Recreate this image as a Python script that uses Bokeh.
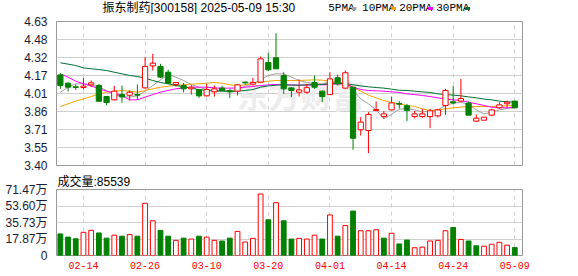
from bokeh.plotting import figure
from bokeh.models import Range1d, FixedTicker, Label, ColumnDataSource
from bokeh.layouts import column
from bokeh.embed import file_html
from bokeh.resources import INLINE
from bokeh.core.properties import value

# ---------------- data ----------------
dates = ["02-11", "02-12", "02-13", "02-14", "02-17", "02-18", "02-19", "02-20", "02-21", "02-24",
         "02-25", "02-26", "02-27", "02-28", "03-03", "03-04", "03-05", "03-06", "03-07", "03-10",
         "03-11", "03-12", "03-13", "03-14", "03-17", "03-18", "03-19", "03-20", "03-21", "03-24",
         "03-25", "03-26", "03-27", "03-28", "03-31", "04-01", "04-02", "04-03", "04-07", "04-08",
         "04-09", "04-10", "04-11", "04-14", "04-15", "04-16", "04-17", "04-18", "04-21", "04-22",
         "04-23", "04-24", "04-25", "04-28", "04-29", "04-30", "05-06", "05-07", "05-08", "05-09"]
tick_idx = [3, 11, 19, 27, 35, 43, 51, 59]

open_ = [4.174, 4.103, 4.072, 4.066, 4.089, 4.083, 3.989, 3.961, 4.006, 4.000,
         4.006, 4.063, 4.251, 4.246, 4.197, 4.092, 4.083, 4.055, 4.049, 3.995,
         4.029, 4.061, 4.038, 4.035, 4.112, 4.095, 4.112, 4.280, 4.320, 4.169,
         4.063, 4.026, 4.026, 4.109, 4.035, 4.006, 4.149, 4.061, 4.069, 3.705,
         3.699, 3.870, 3.818, 3.875, 3.929, 3.910, 3.818, 3.818, 3.818, 3.824,
         3.913, 3.944, 3.950, 3.932, 3.779, 3.787, 3.830, 3.893, 3.927, 3.950]
high = [4.189, 4.112, 4.092, 4.149, 4.126, 4.097, 3.989, 4.080, 4.083, 4.041,
        4.092, 4.326, 4.354, 4.268, 4.218, 4.109, 4.106, 4.089, 4.055, 4.097,
        4.083, 4.078, 4.055, 4.097, 4.118, 4.149, 4.331, 4.362, 4.530, 4.197,
        4.069, 4.135, 4.097, 4.169, 4.041, 4.197, 4.177, 4.212, 4.069, 3.813,
        3.856, 3.947, 3.867, 3.989, 3.952, 3.927, 3.867, 3.884, 3.884, 3.884,
        4.055, 4.080, 4.140, 3.947, 3.836, 3.813, 3.884, 3.941, 3.955, 3.950]
low = [4.055, 4.032, 4.046, 4.049, 4.069, 3.947, 3.915, 3.956, 3.935, 3.955,
       3.961, 4.055, 4.211, 4.149, 4.097, 4.075, 4.024, 4.006, 3.978, 3.989,
       3.989, 4.035, 3.978, 3.998, 4.089, 4.083, 4.103, 4.206, 4.226, 4.012,
       3.984, 3.989, 4.012, 4.055, 3.941, 4.001, 4.083, 4.055, 3.534, 3.656,
       3.505, 3.864, 3.801, 3.870, 3.887, 3.779, 3.801, 3.807, 3.719, 3.810,
       3.833, 3.921, 3.941, 3.830, 3.770, 3.787, 3.821, 3.884, 3.893, 3.893]
close = [4.083, 4.069, 4.066, 4.078, 4.106, 3.949, 3.938, 4.035, 3.986, 4.026,
         4.001, 4.246, 4.274, 4.155, 4.103, 4.109, 4.055, 4.069, 3.995, 4.049,
         4.055, 4.041, 4.029, 4.089, 4.106, 4.109, 4.311, 4.217, 4.226, 4.055,
         4.041, 4.046, 4.065, 4.069, 3.989, 4.140, 4.097, 4.192, 3.633, 3.771,
         3.836, 3.878, 3.841, 3.935, 3.924, 3.870, 3.841, 3.841, 3.867, 3.875,
         4.041, 3.935, 3.972, 3.830, 3.804, 3.813, 3.875, 3.918, 3.941, 3.893]

ma5 = [4.026, 4.069, 4.098, 4.098, 4.092, 4.069, 4.041, 4.006, 3.989, 3.984,
       3.995, 4.035, 4.083, 4.132, 4.177, 4.155, 4.126, 4.092, 4.069, 4.049,
       4.041, 4.041, 4.041, 4.046, 4.075, 4.098, 4.132, 4.169, 4.183, 4.183,
       4.155, 4.126, 4.109, 4.098, 4.098, 4.109, 4.109, 4.098, 4.046, 3.969,
       3.927, 3.875, 3.799, 3.836, 3.881, 3.887, 3.875, 3.856, 3.870, 3.875,
       3.913, 3.932, 3.941, 3.921, 3.875, 3.841, 3.856, 3.875, 3.887, 3.893]
ma10 = [3.904, 3.927, 3.950, 3.969, 3.989, 4.012, 4.026, 4.035, 4.041, 4.035,
        4.026, 4.041, 4.055, 4.069, 4.078, 4.083, 4.089, 4.095, 4.098, 4.103,
        4.109, 4.103, 4.089, 4.083, 4.089, 4.103, 4.112, 4.120, 4.126, 4.126,
        4.126, 4.126, 4.129, 4.132, 4.129, 4.120, 4.115, 4.103, 4.069, 4.035,
        4.001, 3.978, 3.955, 3.938, 3.927, 3.913, 3.904, 3.884, 3.870, 3.875,
        3.884, 3.893, 3.898, 3.904, 3.904, 3.904, 3.904, 3.907, 3.910, 3.913]
ma20 = [4.183, 4.155, 4.120, 4.098, 4.080, 4.055, 4.035, 4.018, 3.995, 3.961,
        3.961, 3.984, 4.006, 4.026, 4.041, 4.055, 4.063, 4.069, 4.069, 4.069,
        4.063, 4.061, 4.061, 4.063, 4.069, 4.075, 4.083, 4.089, 4.092, 4.089,
        4.089, 4.086, 4.086, 4.089, 4.089, 4.095, 4.098, 4.098, 4.069, 4.049,
        4.041, 4.038, 4.035, 4.029, 4.024, 4.012, 4.006, 3.998, 3.989, 3.978,
        3.967, 3.961, 3.955, 3.941, 3.927, 3.913, 3.898, 3.893, 3.893, 3.898]
ma30 = [4.277, 4.266, 4.254, 4.234, 4.226, 4.220, 4.211, 4.197, 4.183, 4.169,
        4.160, 4.146, 4.126, 4.109, 4.098, 4.083, 4.072, 4.061, 4.049, 4.041,
        4.035, 4.035, 4.032, 4.035, 4.041, 4.049, 4.069, 4.080, 4.086, 4.089,
        4.086, 4.086, 4.089, 4.092, 4.092, 4.098, 4.100, 4.100, 4.089, 4.080,
        4.072, 4.066, 4.061, 4.052, 4.043, 4.041, 4.035, 4.029, 4.024, 4.012,
        4.006, 4.001, 3.995, 3.986, 3.978, 3.967, 3.961, 3.950, 3.944, 3.941]

# volume in 万 (10k lots); vol_up: 1 = close above previous close (red), 0 = green
volume = [23.4, 19.9, 18.1, 25.1, 27.2, 24.4, 18.8, 22.0, 20.9, 22.7,
          20.9, 56.5, 37.6, 27.2, 20.9, 16.4, 18.8, 17.8, 20.9, 19.9,
          16.4, 15.7, 18.8, 26.1, 14.6, 18.5, 66.6, 38.7, 57.2, 37.6,
          17.8, 18.5, 17.8, 22.0, 17.8, 43.9, 20.9, 32.4, 48.1, 26.8,
          26.8, 27.9, 18.8, 24.1, 12.5, 16.7, 8.4, 9.1, 15.7, 16.4,
          26.8, 30.3, 17.4, 15.7, 10.5, 10.1, 12.2, 14.3, 11.2, 8.5539]
vol_up = [0, 0, 0, 1, 1, 0, 0, 1, 0, 1,
          0, 1, 1, 0, 0, 1, 0, 1, 0, 1,
          1, 0, 0, 1, 1, 1, 1, 0, 1, 0,
          0, 1, 1, 1, 0, 1, 0, 1, 0, 1,
          1, 1, 0, 1, 0, 0, 1, 1, 1, 1,
          1, 0, 1, 0, 0, 1, 1, 1, 1, 0]

price_ticks = [3.40, 3.55375, 3.7075, 3.86125, 4.015, 4.16875, 4.3225, 4.47625, 4.63]
price_labels = ["3.40", "3.55", "3.71", "3.86", "4.01", "4.17", "4.32", "4.48", "4.63"]
vol_ticks = [0, 17.8675, 35.735, 53.6025, 71.47]
vol_labels = ["0", "17.87万", "35.73万", "53.60万", "71.47万"]

title_text = "振东制药[300158] 2025-05-09 15:30"
vol_title = "成交量:85539"
ma_names = ["5PMA", "10PMA", "20PMA", "30PMA"]

# ---------------- styles ----------------
W = 578
RED = "#ff0000"
GREEN = "#008000"
MA_COLORS = ["#a0a0a0", "#f5a300", "#ff00ff", "#006f33"]
GRID = "#d0d0d0"
BORDER = "#999999"
SANS_CJK = "Liberation Sans, Noto Sans CJK SC"
MONO = "Liberation Mono"
LABEL_COLOR = "#1a1a33"

idx = list(range(len(close)))
up = [c >= o for o, c in zip(open_, close)]
src = ColumnDataSource(dict(
    x=idx,
    o=open_, h=high, l=low, c=close,
    top=[max(o, c) for o, c in zip(open_, close)],
    bot=[min(o, c) for o, c in zip(open_, close)],
    col=[RED if u else GREEN for u in up],
    fill=["#ffffff" if u else GREEN for u in up],
))
vsrc = ColumnDataSource(dict(
    x=idx, v=volume,
    col=[RED if u else GREEN for u in vol_up],
    fill=["#ffffff" if u else GREEN for u in vol_up],
))

x_range = Range1d(-0.5, 60)

# ---------------- header strip (pixel units, y downward): title + MA legend ----------------
HEAD_H = 14
head = figure(width=W, height=HEAD_H, x_range=Range1d(0, W), y_range=Range1d(HEAD_H, 0),
              title=None, output_backend="svg", toolbar_location=None,
              x_axis_location=None, y_axis_location=None, min_border=0,
              min_border_left=0, min_border_right=0, min_border_top=0, min_border_bottom=0)
head.outline_line_color = None
head.xgrid.visible = False
head.ygrid.visible = False
head.text(x=[57], y=[7], text=[title_text], text_font=value(SANS_CJK), text_font_size="12px",
          text_color="#000000", text_baseline="middle")
leg_x = [337, 379, 425, 471]
box_x = [366, 415, 461, 507]
head.text(x=leg_x, y=[7] * 4, text=ma_names, text_font=value(MONO), text_font_size="11px",
          text_color="#000000", text_baseline="middle")
head.quad(left=box_x, right=[b + 6 for b in box_x], top=[6.5] * 4, bottom=[9.5] * 4,
          fill_color=MA_COLORS, line_color=None)

# ---------------- price panel ----------------
p1 = figure(width=W, height=158, x_range=x_range, y_range=Range1d(3.40, 4.63),
            title=None, output_backend="svg", toolbar_location=None, x_axis_location=None,
            min_border_left=56, min_border_right=56, min_border_top=7, min_border_bottom=7)
p1.outline_line_color = BORDER
p1.xgrid.ticker = FixedTicker(ticks=tick_idx)
p1.xgrid.grid_line_color = GRID
p1.xgrid.grid_line_dash = "4 4"
p1.yaxis.ticker = FixedTicker(ticks=price_ticks)
p1.yaxis.major_label_overrides = dict(zip(price_ticks, price_labels))
p1.ygrid.grid_line_color = GRID
for ax in p1.yaxis:
    ax.axis_line_color = None
    ax.major_tick_line_color = None
    ax.minor_tick_line_color = None
    ax.major_label_standoff = 3
    ax.major_label_text_font = "Liberation Sans"
    ax.major_label_text_font_size = "12px"
    ax.major_label_text_color = LABEL_COLOR

wm = Label(x=180, y=72, x_units="screen", y_units="screen", text="东方财富",
           text_font="Noto Sans CJK SC", text_font_size="32px", text_font_style="bold",
           text_color="#ececec", text_baseline="middle", level="underlay")
p1.add_layout(wm)

for ma, colr in zip([ma5, ma10, ma20, ma30], MA_COLORS):
    p1.line(idx, ma, line_color=colr, line_width=1)

p1.segment(x0="x", y0="l", x1="x", y1="h", line_color="col", line_width=1, source=src)
p1.vbar(x="x", top="top", bottom="bot", width=0.68, fill_color="fill",
        line_color="col", line_width=1, source=src)

# ---------------- volume panel ----------------
p2 = figure(width=W, height=104, x_range=x_range, y_range=Range1d(0, 71.47),
            output_backend="svg", toolbar_location=None,
            min_border_left=56, min_border_right=56, min_border_top=15, min_border_bottom=21)
p2.title.text = vol_title
p2.title.align = "left"
p2.title.offset = 1
p2.title.standoff = 1
p2.title.text_font = SANS_CJK
p2.title.text_font_size = "12px"
p2.title.text_font_style = "normal"
p2.title.text_color = "#000000"
p2.outline_line_color = BORDER
p2.xaxis.ticker = FixedTicker(ticks=tick_idx)
p2.xaxis.major_label_overrides = {i: dates[i] for i in tick_idx}
p2.xgrid.grid_line_color = GRID
p2.xgrid.grid_line_dash = "4 4"
p2.yaxis.ticker = FixedTicker(ticks=vol_ticks)
p2.yaxis.major_label_overrides = dict(zip(vol_ticks, vol_labels))
p2.ygrid.grid_line_color = GRID
for ax in p2.xaxis:
    ax.axis_line_color = None
    ax.major_tick_line_color = None
    ax.minor_tick_line_color = None
    ax.major_label_standoff = 0
    ax.major_label_text_font = MONO
    ax.major_label_text_font_size = "10px"
    ax.major_label_text_color = RED
for ax in p2.yaxis:
    ax.axis_line_color = None
    ax.major_tick_line_color = None
    ax.minor_tick_line_color = None
    ax.major_label_standoff = 3
    ax.major_label_text_font = SANS_CJK
    ax.major_label_text_font_size = "12px"
    ax.major_label_text_color = LABEL_COLOR

p2.vbar(x="x", top="v", bottom=0, width=0.62, fill_color="fill", line_color="col",
        line_width=1, source=vsrc)

layout = column(head, p1, p2, spacing=0)
open("out.html", "w").write(file_html(layout, INLINE))
